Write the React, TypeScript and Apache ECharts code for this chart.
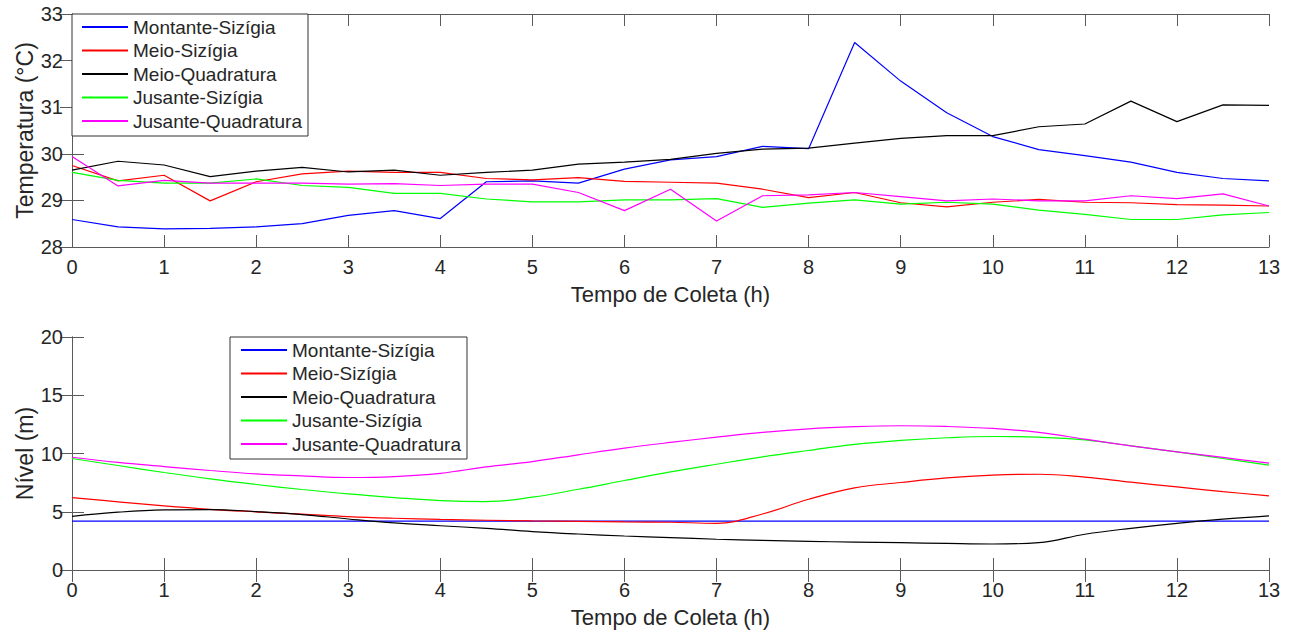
import React, { useEffect, useRef } from "react";
import * as echarts from "echarts";

const hours = [0, 0.5, 1, 1.5, 2, 2.5, 3, 3.5, 4, 4.5, 5, 5.5, 6, 6.5, 7, 7.5, 8, 8.5, 9, 9.5, 10, 10.5, 11, 11.5, 12, 12.5, 13];
const seriesNames = ["Montante-Sizígia", "Meio-Sizígia", "Meio-Quadratura", "Jusante-Sizígia", "Jusante-Quadratura"];
const seriesColors = ["#0000ff", "#ff0000", "#000000", "#00ff00", "#ff00ff"];

// Temperatura (°C)
const tempMontanteSizigia = [28.59, 28.43, 28.39, 28.4, 28.43, 28.5, 28.68, 28.78, 28.61, 29.4, 29.42, 29.37, 29.67, 29.87, 29.94, 30.16, 30.11, 32.39, 31.56, 30.88, 30.37, 30.09, 29.96, 29.82, 29.6, 29.47, 29.42];
const tempMeioSizigia = [29.75, 29.42, 29.54, 28.99, 29.4, 29.57, 29.63, 29.6, 29.6, 29.47, 29.44, 29.49, 29.41, 29.39, 29.37, 29.24, 29.06, 29.17, 28.95, 28.86, 28.96, 29.02, 28.96, 28.95, 28.91, 28.9, 28.88];
const tempMeioQuadratura = [29.65, 29.84, 29.76, 29.51, 29.63, 29.71, 29.61, 29.65, 29.54, 29.6, 29.65, 29.78, 29.82, 29.88, 30.01, 30.1, 30.12, 30.23, 30.33, 30.39, 30.39, 30.58, 30.64, 31.13, 30.69, 31.05, 31.04];
const tempJusanteSizigia = [29.6, 29.43, 29.37, 29.37, 29.46, 29.32, 29.28, 29.15, 29.15, 29.03, 28.97, 28.97, 29.01, 29.01, 29.04, 28.85, 28.94, 29.01, 28.92, 28.96, 28.92, 28.79, 28.7, 28.59, 28.59, 28.69, 28.74];
const tempJusanteQuadratura = [29.94, 29.31, 29.43, 29.37, 29.37, 29.37, 29.35, 29.36, 29.32, 29.35, 29.35, 29.17, 28.78, 29.24, 28.56, 29.1, 29.12, 29.17, 29.08, 28.99, 29.03, 28.99, 28.99, 29.1, 29.04, 29.14, 28.88];

// Nível (m)
const nivelMontanteSizigia = [4.2, 4.2, 4.2, 4.2, 4.2, 4.2, 4.2, 4.2, 4.2, 4.2, 4.2, 4.2, 4.2, 4.2, 4.2, 4.2, 4.2, 4.2, 4.2, 4.2, 4.2, 4.2, 4.2, 4.2, 4.2, 4.2, 4.2];
const nivelMeioSizigia = [6.22, 5.85, 5.5, 5.21, 4.99, 4.79, 4.58, 4.44, 4.34, 4.27, 4.21, 4.18, 4.13, 4.1, 4.01, 4.81, 6.07, 7.05, 7.51, 7.91, 8.14, 8.22, 7.97, 7.54, 7.13, 6.73, 6.36];
const nivelMeioQuadratura = [4.61, 4.96, 5.16, 5.19, 5.01, 4.76, 4.38, 4.04, 3.8, 3.58, 3.3, 3.09, 2.92, 2.78, 2.64, 2.55, 2.46, 2.4, 2.35, 2.28, 2.23, 2.35, 3.07, 3.58, 4.01, 4.36, 4.64];
const nivelJusanteSizigia = [9.57, 8.97, 8.37, 7.82, 7.34, 6.91, 6.53, 6.22, 5.96, 5.87, 6.25, 6.93, 7.68, 8.42, 9.08, 9.71, 10.26, 10.78, 11.12, 11.35, 11.46, 11.4, 11.17, 10.66, 10.14, 9.57, 9.0];
const nivelJusanteQuadratura = [9.68, 9.23, 8.88, 8.54, 8.25, 8.08, 7.94, 8.02, 8.3, 8.85, 9.31, 9.89, 10.46, 10.95, 11.4, 11.81, 12.12, 12.3, 12.38, 12.32, 12.15, 11.81, 11.23, 10.66, 10.14, 9.66, 9.17];

const tempData = [tempMontanteSizigia, tempMeioSizigia, tempMeioQuadratura, tempJusanteSizigia, tempJusanteQuadratura];
const nivelData = [nivelMontanteSizigia, nivelMeioSizigia, nivelMeioQuadratura, nivelJusanteSizigia, nivelJusanteQuadratura];

const FONT = "'Liberation Sans', Arial, sans-serif";
const TEXT = "#262626";
const AXIS = "#5a5a5a";

function xAxes(gridIndex: number) {
  const common = {
    gridIndex,
    type: "value",
    min: 0,
    max: 13,
    interval: 1,
    splitLine: { show: false },
    axisLine: { show: true, lineStyle: { color: AXIS, width: 1 } },
    axisTick: { show: true, inside: true, length: 12, lineStyle: { color: AXIS } },
  };
  return [
    {
      ...common,
      position: "bottom",
      axisLabel: { show: true, fontSize: 20, color: TEXT, fontFamily: FONT, margin: 10 },
      name: "Tempo de Coleta (h)",
      nameLocation: "middle",
      nameGap: 36,
      nameTextStyle: { fontSize: 22, color: TEXT, fontFamily: FONT },
    },
    { ...common, position: "top", axisLabel: { show: false } },
  ];
}

function yAxes(gridIndex: number, min: number, max: number, interval: number, name: string) {
  const common = {
    gridIndex,
    type: "value",
    min,
    max,
    interval,
    splitLine: { show: false },
    axisLine: { show: true, lineStyle: { color: AXIS, width: 1 } },
    axisTick: { show: true, inside: true, length: 12, lineStyle: { color: AXIS } },
  };
  return [
    {
      ...common,
      position: "left",
      axisLabel: { show: true, fontSize: 20, color: TEXT, fontFamily: FONT, margin: 9 },
      name,
      nameLocation: "middle",
      nameGap: 36,
      nameMoveOverlap: false,
      nameRotate: 90,
      nameTextStyle: { fontSize: 23, color: TEXT, fontFamily: FONT },
    },
    { ...common, position: "right", axisLabel: { show: false } },
  ];
}

function legend(left: number, top: number, padLeft: number) {
  return {
    left,
    top,
    orient: "vertical",
    backgroundColor: "#ffffff",
    borderColor: "#333333",
    borderWidth: 1,
    borderRadius: 0,
    padding: [3.5, 6, 5.5, padLeft],
    itemWidth: 46,
    itemHeight: 14,
    itemGap: 4.5,
    itemStyle: { opacity: 0 },
    textStyle: { fontSize: 19, color: TEXT, fontFamily: FONT },
    selectedMode: false,
    data: seriesNames,
  };
}

export default function App() {
  const ref = useRef<HTMLDivElement>(null);
  useEffect(() => {
    if (!ref.current) return;
    const chart = echarts.init(ref.current, undefined, { renderer: "svg" });
    const series: any[] = [];
    seriesNames.forEach((name, i) => {
      series.push({
        name,
        type: "line",
        xAxisIndex: 0,
        yAxisIndex: 0,
        symbol: "none",
        lineStyle: { color: seriesColors[i], width: 1.2 },
        itemStyle: { color: seriesColors[i] },
        data: hours.map((h, j) => [h, tempData[i][j]]),
      });
    });
    seriesNames.forEach((name, i) => {
      series.push({
        name,
        type: "line",
        xAxisIndex: 2,
        yAxisIndex: 2,
        symbol: "none",
        smooth: 0.4,
        lineStyle: { color: seriesColors[i], width: 1.2 },
        itemStyle: { color: seriesColors[i] },
        data: hours.map((h, j) => [h, nivelData[i][j]]),
      });
    });
    chart.setOption({
      animation: false,
      backgroundColor: "#ffffff",
      textStyle: { fontFamily: FONT },
      grid: [
        { left: 72, width: 1197, top: 14, height: 233, containLabel: false },
        { left: 72, width: 1197, top: 337, height: 233, containLabel: false },
      ],
      xAxis: [...xAxes(0), ...xAxes(1)],
      yAxis: [...yAxes(0, 28, 33, 1, "Temperatura (°C)"), ...yAxes(1, 0, 20, 5, "Nível (m)")],
      legend: [legend(72, 14, 9), legend(230, 337, 10)],
      series,
    });
    return () => chart.dispose();
  }, []);
  return (
    <div
      ref={ref}
      style={{ position: "absolute", left: 0, top: 0, width: 1299, height: 633, background: "#fff" }}
    />
  );
}
